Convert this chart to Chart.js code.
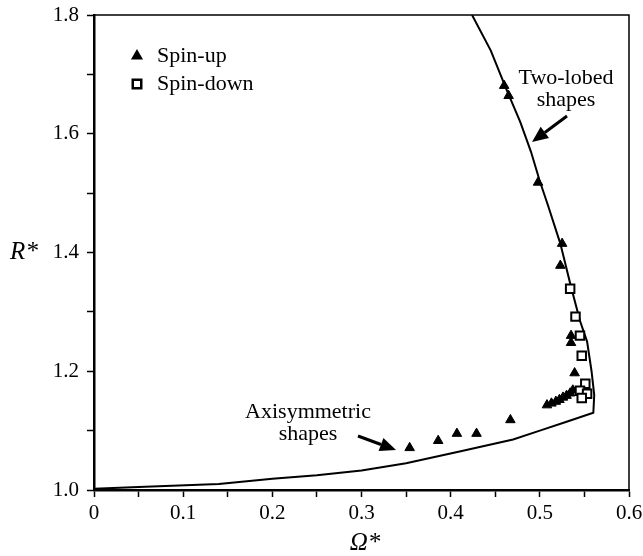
<!DOCTYPE html>
<html>
<head>
<meta charset="utf-8">
<script src="https://cdn.jsdelivr.net/npm/chart.js@4.4.1/dist/chart.umd.min.js"></script>
<style>
  html, body { margin: 0; padding: 0; background: #fff; }
  #wrap { width: 643px; height: 556px; }
</style>
</head>
<body>
<div id="wrap"><canvas id="chart" width="643" height="556"></canvas></div>
<script>
// Boundary curve (Omega*, R*)
const curveOmega = [0, 0.05, 0.14, 0.2, 0.25, 0.3, 0.35, 0.41, 0.47, 0.5, 0.53, 0.56, 0.561, 0.558, 0.553, 0.545, 0.534, 0.523, 0.509, 0.5, 0.49, 0.478, 0.463, 0.445, 0.424];
const curveR     = [1.002, 1.005, 1.01, 1.019, 1.025, 1.033, 1.045, 1.065, 1.085, 1.1, 1.115, 1.13, 1.16, 1.2, 1.25, 1.285, 1.348, 1.415, 1.48, 1.52, 1.57, 1.62, 1.673, 1.74, 1.8];

// Spin-up (filled triangles)
const upOmega = [0.460, 0.465, 0.498, 0.525, 0.523, 0.535, 0.535, 0.539, 0.354, 0.386, 0.407, 0.429, 0.467,
                 0.508, 0.513, 0.518, 0.522, 0.526, 0.530, 0.534, 0.537];
const upR     = [1.681, 1.664, 1.518, 1.415, 1.378, 1.260, 1.248, 1.197, 1.071, 1.083, 1.095, 1.095, 1.118,
                 1.143, 1.146, 1.149, 1.152, 1.156, 1.159, 1.163, 1.168];

// Spin-down (open squares)
const downOmega = [0.534, 0.540, 0.545, 0.547, 0.551, 0.545, 0.553, 0.547];
const downR     = [1.339, 1.292, 1.260, 1.226, 1.179, 1.167, 1.162, 1.155];

// Tick labels
const xTickLabels = ['0', '0.1', '0.2', '0.3', '0.4', '0.5', '0.6'];
const yTickLabels = ['1.0', '1.2', '1.4', '1.6', '1.8'];

const toPoints = (xs, ys) => xs.map((x, i) => ({ x: x, y: ys[i] }));

const FONT = '"Liberation Serif", "Times New Roman", serif';

// arrow helper, coordinates in pixels
function drawArrow(ctx, x1, y1, x2, y2) {
  const ang = Math.atan2(y2 - y1, x2 - x1);
  const len = 16, hw = 7;
  const bx = x2 - len * Math.cos(ang), by = y2 - len * Math.sin(ang);
  ctx.beginPath();
  ctx.moveTo(x1, y1);
  ctx.lineTo(bx, by);
  ctx.lineWidth = 3;
  ctx.stroke();
  ctx.beginPath();
  ctx.moveTo(x2, y2);
  ctx.lineTo(bx + hw * Math.sin(ang), by - hw * Math.cos(ang));
  ctx.lineTo(bx - hw * Math.sin(ang), by + hw * Math.cos(ang));
  ctx.closePath();
  ctx.fill();
}

const decorations = {
  id: 'decorations',
  afterDraw(chart) {
    const ctx = chart.ctx;
    const a = chart.chartArea;
    ctx.save();
    ctx.strokeStyle = '#000';
    ctx.fillStyle = '#000';

    // top and right frame
    ctx.lineWidth = 1.5;
    ctx.beginPath();
    ctx.moveTo(a.left, a.top);
    ctx.lineTo(a.right, a.top);
    ctx.lineTo(a.right, a.bottom);
    ctx.stroke();

    // legend
    ctx.font = '22px ' + FONT;
    ctx.textBaseline = 'middle';
    ctx.textAlign = 'left';
    Chart.helpers.drawPoint(ctx, { pointStyle: 'triangle', radius: 5.5, borderWidth: 1 }, 137, 56);
    ctx.fill();
    ctx.fillText('Spin-up', 157, 56);
    ctx.fillStyle = '#fff';
    ctx.lineWidth = 2.5;
    Chart.helpers.drawPoint(ctx, { pointStyle: 'rect', radius: 6, borderWidth: 2.5 }, 137, 84);
    ctx.fillStyle = '#000';
    ctx.fillText('Spin-down', 157, 84);

    // annotations
    ctx.textAlign = 'center';
    ctx.fillText('Two-lobed', 566, 78);
    ctx.fillText('shapes', 566, 100);
    drawArrow(ctx, 567, 116, 532, 142);

    ctx.fillText('Axisymmetric', 308, 412);
    ctx.fillText('shapes', 308, 434);
    drawArrow(ctx, 358, 436, 396, 450);

    // axis titles
    ctx.font = 'italic 25px ' + FONT;
    ctx.fillText('R*', 24, chart.scales.y.getPixelForValue(1.4));
    ctx.fillText('\u03A9*', 365, 543);
    ctx.restore();
  }
};

new Chart(document.getElementById('chart'), {
  type: 'scatter',
  data: {
    datasets: [
      {
        label: 'curve',
        data: toPoints(curveOmega, curveR),
        showLine: true,
        borderColor: '#000',
        borderWidth: 2,
        pointRadius: 0,
        tension: 0,
        order: 3
      },
      {
        label: 'Spin-up',
        data: toPoints(upOmega, upR),
        pointStyle: 'triangle',
        pointRadius: 5.5,
        backgroundColor: '#000',
        borderColor: '#000',
        borderWidth: 1,
        order: 2
      },
      {
        label: 'Spin-down',
        data: toPoints(downOmega, downR),
        pointStyle: 'rect',
        pointRadius: 6,
        backgroundColor: '#fff',
        borderColor: '#000',
        borderWidth: 2,
        order: 1
      }
    ]
  },
  options: {
    responsive: false,
    animation: false,
    layout: { padding: { left: 0, top: 15, right: 14, bottom: 0 } },
    plugins: { legend: { display: false }, tooltip: { enabled: false } },
    scales: {
      x: {
        type: 'linear',
        min: 0,
        max: 0.6,
        afterFit: s => { s.height = 66; s.paddingLeft = 0; s.paddingRight = 0; },
        ticks: {
          stepSize: 0.05,
          color: '#000',
          padding: 4,
          font: { family: FONT, size: 21 },
          maxRotation: 0,
          autoSkip: false,
          callback: (v) => {
            const k = Math.round(v * 20);
            return k % 2 === 0 ? xTickLabels[k / 2] : '';
          }
        },
        grid: { drawOnChartArea: false, drawTicks: true, tickLength: 7, tickColor: '#000', tickWidth: 1.5 },
        border: { display: true, color: '#000', width: 2.5 }
      },
      y: {
        type: 'linear',
        min: 1.0,
        max: 1.8,
        afterFit: s => { s.width = 94; s.paddingTop = 0; s.paddingBottom = 0; },
        ticks: {
          stepSize: 0.1,
          color: '#000',
          padding: 8,
          font: { family: FONT, size: 21 },
          autoSkip: false,
          callback: (v) => {
            const k = Math.round((v - 1) * 10);
            return k % 2 === 0 ? yTickLabels[k / 2] : '';
          }
        },
        grid: { drawOnChartArea: false, drawTicks: true, tickLength: 7, tickColor: '#000', tickWidth: 1.5 },
        border: { display: true, color: '#000', width: 2.5 }
      }
    }
  },
  plugins: [decorations]
});
</script>
</body>
</html>
